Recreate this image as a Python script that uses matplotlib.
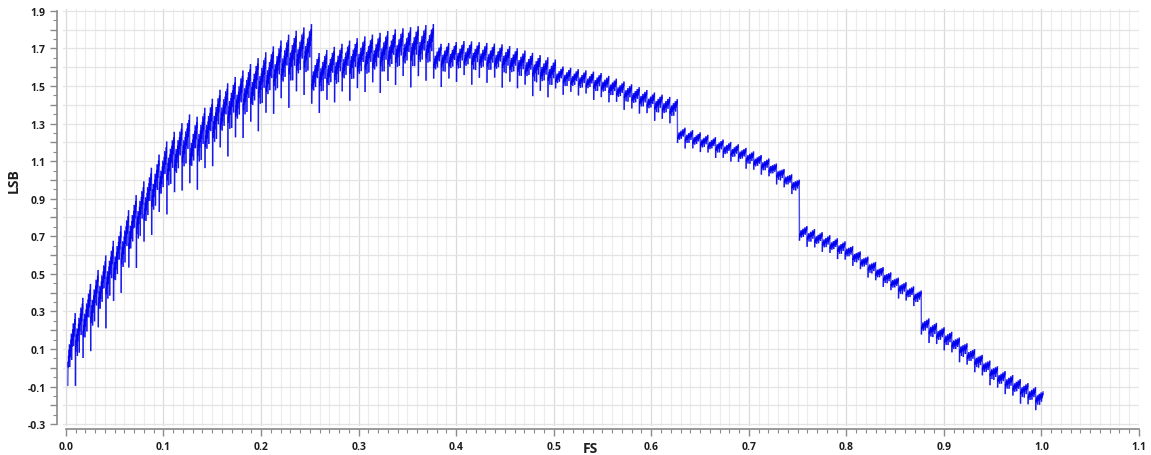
import numpy as np
import matplotlib
matplotlib.use('Agg')
import matplotlib.pyplot as plt
from matplotlib.collections import LineCollection
from matplotlib.ticker import MultipleLocator, FuncFormatter

# band centre of the INL trace: (FS, LSB) knots for each 1/8-scale segment
SEG_FS = [
    [0.002, 0.015, 0.035, 0.053, 0.070, 0.086, 0.105, 0.127],
    [0.127, 0.158, 0.190, 0.230, 0.252],
    [0.252, 0.295, 0.336, 0.377],
    [0.377, 0.410, 0.450, 0.476, 0.502],
    [0.502, 0.548, 0.600, 0.627],
    [0.627, 0.689, 0.722, 0.752],
    [0.752, 0.800, 0.856, 0.877],
    [0.877, 0.907, 0.958, 1.002],
]
SEG_LSB = [
    [0.09, 0.23, 0.42, 0.60, 0.78, 0.93, 1.10, 1.23],
    [1.17, 1.36, 1.50, 1.66, 1.71],
    [1.56, 1.65, 1.70, 1.73],
    [1.65, 1.67, 1.65, 1.61, 1.57],
    [1.56, 1.52, 1.42, 1.38],
    [1.25, 1.15, 1.07, 0.96],
    [0.73, 0.63, 0.43, 0.37],
    [0.24, 0.15, -0.05, -0.17],
]
# sawtooth peak-to-peak and glitch depth per segment (LSB)
TOOTH_PP = [0.24, 0.24, 0.20, 0.14, 0.10, 0.08, 0.08, 0.09]
GLITCH = [0.15, 0.15, 0.12, 0.09, 0.05, 0.03, 0.03, 0.04]
# shape of one 32-code tooth, normalised to 1 LSB peak-to-peak
TOOTH_SHAPE = [-0.50, -0.25, -0.39, -0.14, -0.29, -0.03, -0.18, 0.07,
               -0.36, -0.10, -0.25, 0.00, -0.14, 0.11, -0.04, 0.22,
               -0.22, 0.04, -0.11, 0.14, 0.00, 0.25, 0.10, 0.36,
               -0.07, 0.18, 0.03, 0.29, 0.14, 0.39, 0.25, 0.50]
# relative glitch size inside a tooth (codes 0, 8, 16, 24) and from tooth to tooth
GLITCH_CODES = [0, 8, 16, 24]
GLITCH_WEIGHT = [1.0, 0.3, 0.55, 0.3]
GLITCH_SCALE = [0.45, 1.0, 0.55, 0.8]

N_CODES = 4096


def build_trace():
    codes = np.arange(N_CODES)
    fs = (codes + 8) / N_CODES
    seg = codes // 512
    k = codes % 32
    tooth = codes // 32
    lsb = np.empty(N_CODES)
    for s in range(8):
        m = seg == s
        lsb[m] = np.interp(fs[m], SEG_FS[s], SEG_LSB[s])
    lsb += np.array(TOOTH_PP)[seg] * np.array(TOOTH_SHAPE)[k]
    glitch = np.zeros(32)
    glitch[GLITCH_CODES] = GLITCH_WEIGHT
    lsb -= np.array(GLITCH)[seg] * np.array(GLITCH_SCALE)[tooth % 4] * glitch[k]
    return fs, lsb


fs, lsb = build_trace()

fig = plt.figure(figsize=(11.51, 4.56), dpi=100)
ax = fig.add_axes([63 / 1151, 29 / 456, 1076 / 1151, 417 / 456])

# draw code-to-code segments separately so overlapping strokes build up
pts = np.column_stack([fs, lsb])
segs = np.stack([pts[:-1], pts[1:]], axis=1)
ax.add_collection(LineCollection(segs, colors='#0000f0', linewidths=1.0, alpha=0.7))

ax.set_xlim(-0.003, 1.1)
ax.set_ylim(-0.31, 1.91)

ax.xaxis.set_major_locator(MultipleLocator(0.1))
ax.xaxis.set_minor_locator(MultipleLocator(0.01))
ax.yaxis.set_major_locator(MultipleLocator(0.1))
ax.yaxis.set_minor_locator(MultipleLocator(0.05))
ax.xaxis.set_major_formatter(FuncFormatter(lambda v, p: f'{v:.1f}'))
ax.yaxis.set_major_formatter(
    FuncFormatter(lambda v, p: f'{v:.1f}' if round(v * 10) % 2 else ''))

ax.grid(which='major', axis='x', color='#dadada', lw=0.9)
ax.grid(which='minor', axis='x', color='#ececec', lw=0.8)
ax.grid(which='major', axis='y', color='#e4e4e4', lw=0.9)
ax.set_axisbelow(True)

for side in ('top', 'right'):
    ax.spines[side].set_visible(False)
ax.spines['left'].set_position(('outward', 4))
ax.spines['bottom'].set_position(('outward', 2))
ax.spines['left'].set_bounds(-0.3, 1.9)
ax.spines['bottom'].set_bounds(0.0, 1.1)
for side in ('left', 'bottom'):
    ax.spines[side].set_color('#8a8a8a')
    ax.spines[side].set_linewidth(1.2)

ax.tick_params(which='major', length=5, width=1, color='#8a8a8a')
ax.tick_params(which='minor', length=3, width=0.8, color='#8a8a8a')
ax.tick_params(labelsize=7.5, labelcolor='#1e1e1e')
for lab in ax.get_xticklabels() + ax.get_yticklabels():
    lab.set_fontfamily('Open Sans')
    lab.set_fontweight('bold')

ax.set_xlabel('FS', fontsize=10, fontweight='bold', family='Open Sans', color='#1e1e1e')
ax.set_ylabel('LSB', fontsize=10, fontweight='bold', family='Open Sans', color='#1e1e1e')
ax.xaxis.set_label_coords(0.49, -0.036)
ax.yaxis.set_label_coords(-0.039, 0.59)

fig.savefig('out.png', dpi=100)
